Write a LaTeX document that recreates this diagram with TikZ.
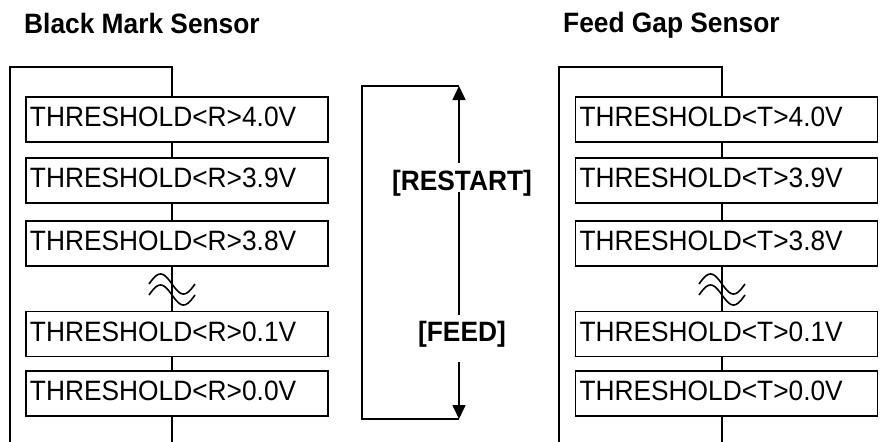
\documentclass[tikz,border=0pt]{standalone}
\usepackage{fontspec}
\setmainfont{Liberation Sans}[FakeStretch=0.94]
\usetikzlibrary{arrows.meta}
\begin{document}
\begin{tikzpicture}[x=1pt,y=-1pt,
  every node/.style={font=\fontsize{28}{32}\selectfont},
  ln/.style={line width=1.6pt},
  threshbox/.style={draw,line width=1.8pt,minimum height=45pt,text width=294pt,
    inner xsep=4pt,inner ysep=0pt,align=left,text height=20pt,text depth=6pt},
  title/.style={font=\fontsize{28}{32}\selectfont\bfseries,anchor=base west,inner sep=0pt},
  keylabel/.style={font=\fontsize{28}{32}\selectfont\bfseries,anchor=base,inner sep=0pt},
  wave/.style={line width=1.6pt,smooth}]
\useasboundingbox (0,0) rectangle (884,442);

% titles
\node[title] (t1) at (24,33) {Black Mark Sensor};
\node[title] (t2) at (563,32) {Feed Gap Sensor};

% left panel
\foreach \n/\y/\v in {1/119.5/4.0,2/180.5/3.9,3/243.5/3.8,4/334/0.1,5/393.5/0.0}{
  \node[threshbox] (lb\n) at (177,\y) {THRESHOLD<R>\v V};
}
\coordinate (lo) at (10,442);
\coordinate (lc) at (10,67);
\coordinate (lt) at (172,67);
\coordinate (le) at (172,442);
\draw[ln] (lo) -- (lc) -- (lt) -- (lt |- lb1.north);
\draw[ln] (lt |- lb1.south) -- (lt |- lb2.north);
\draw[ln] (lt |- lb2.south) -- (lt |- lb3.north);
\draw[ln] (lt |- lb3.south) -- (lt |- lb4.north);
\draw[ln] (lt |- lb4.south) -- (lt |- lb5.north);
\draw[ln] (lt |- lb5.south) -- (le);
\draw[wave] plot[domain=149:195,samples=40] (\x,{284+10*sin((\x-172)/23*180)});
\draw[wave] plot[domain=149:195,samples=40] (\x,{295+10*sin((\x-172)/23*180)});

% right panel
\foreach \n/\y/\v in {1/119.5/4.0,2/180.5/3.9,3/243.5/3.8,4/334/0.1,5/393.5/0.0}{
  \node[threshbox] (rb\n) at (726.5,\y) {THRESHOLD<T>\v V};
}
\coordinate (ro) at (559,442);
\coordinate (rc) at (559,67);
\coordinate (rt) at (722,67);
\coordinate (re) at (722,442);
\draw[ln] (ro) -- (rc) -- (rt) -- (rt |- rb1.north);
\draw[ln] (rt |- rb1.south) -- (rt |- rb2.north);
\draw[ln] (rt |- rb2.south) -- (rt |- rb3.north);
\draw[ln] (rt |- rb3.south) -- (rt |- rb4.north);
\draw[ln] (rt |- rb4.south) -- (rt |- rb5.north);
\draw[ln] (rt |- rb5.south) -- (re);
\draw[wave] plot[domain=699:745,samples=40] (\x,{284+10*sin((\x-722)/23*180)});
\draw[wave] plot[domain=699:745,samples=40] (\x,{295+10*sin((\x-722)/23*180)});

% middle loop
\node[keylabel] (restart) at (462,190) {[RESTART]};
\node[keylabel] (feed) at (462,341) {[FEED]};
\coordinate (mtr) at (459,86);
\coordinate (mtl) at (362,86);
\coordinate (mbl) at (362,419);
\coordinate (mbr) at (459,419);
\coordinate (g1) at (459,163);
\coordinate (g2) at (459,192);
\coordinate (g3) at (459,315);
\coordinate (g4) at (459,362);
\draw[ln] (mtr) -- (mtl) -- (mbl) -- (mbr);
\draw[ln,-{Triangle[length=14pt,width=13pt]}] (g1) -- (mtr);
\draw[ln] (g2) -- (g3);
\draw[ln,-{Triangle[length=14pt,width=13pt]}] (g4) -- (mbr);
\end{tikzpicture}
\end{document}
